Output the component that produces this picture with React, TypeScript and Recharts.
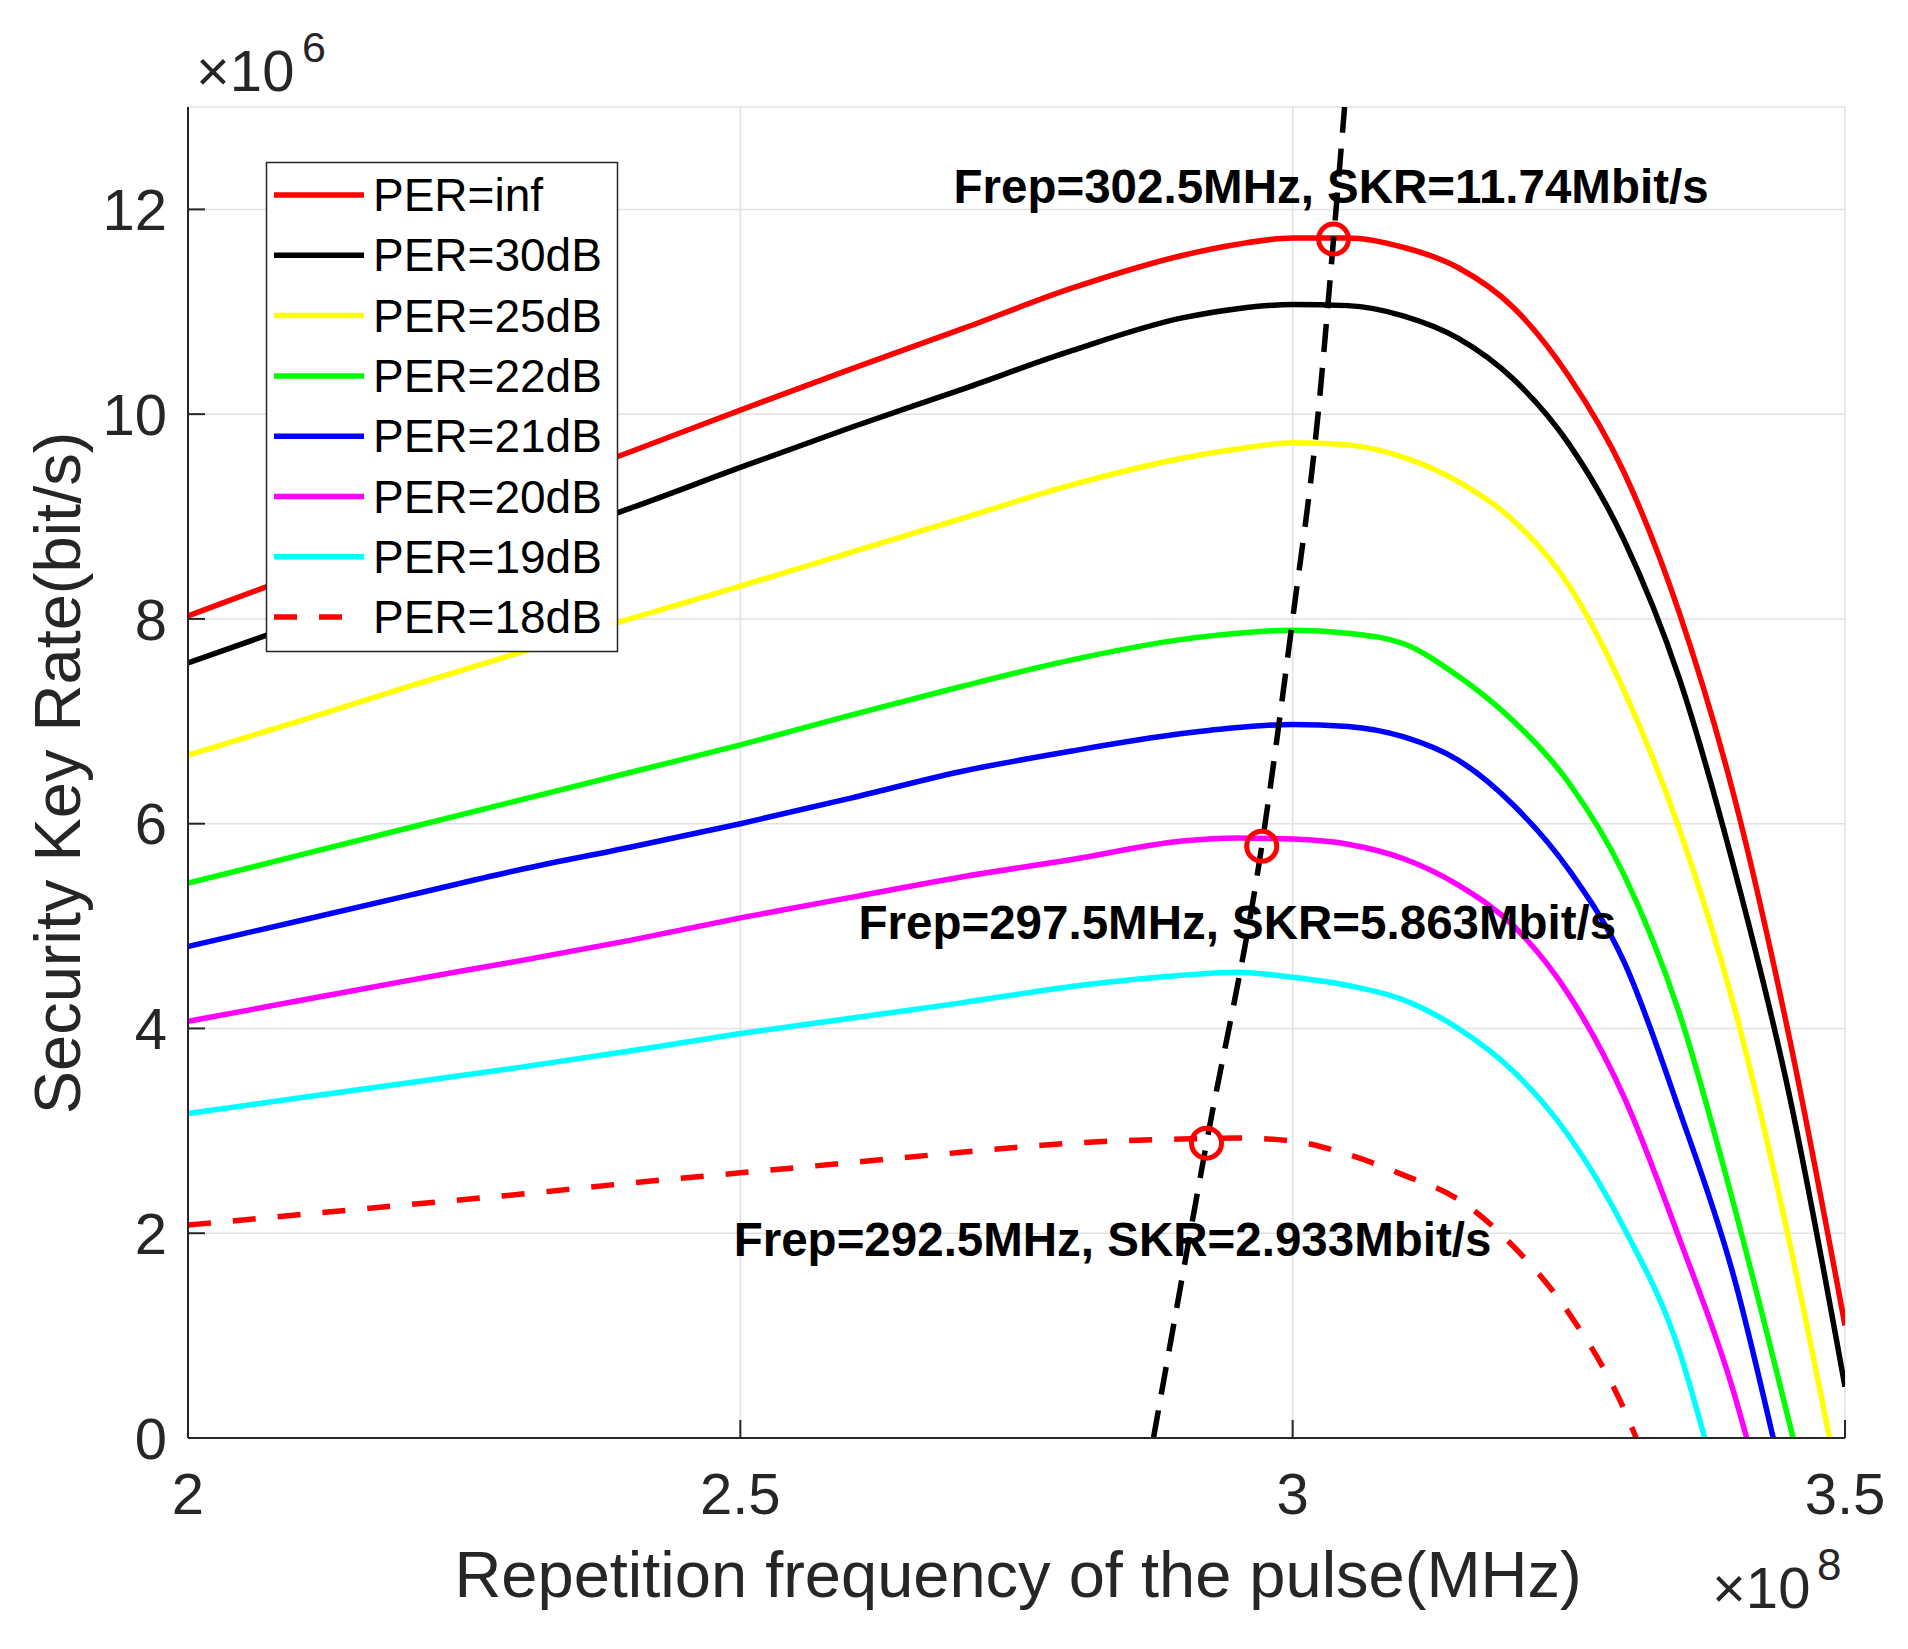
import { ComposedChart, Line, Scatter, XAxis, YAxis, CartesianGrid } from 'recharts'

const W = 1908
const H = 1649
const FONT = '"Liberation Sans", Arial, Helvetica, sans-serif'
const AXIS = '#262626'

// x in units of 1e8 Hz, y in units of 1e6 bit/s
const freq = [2.0, 2.1, 2.2, 2.3, 2.4, 2.5, 2.6, 2.7, 2.8, 2.9, 2.95, 3.0, 3.05, 3.1, 3.15, 3.2, 3.25, 3.3, 3.35, 3.4, 3.45, 3.5]

const skrInf = [8.03, 8.43, 8.83, 9.23, 9.63, 10.04, 10.44, 10.83, 11.23, 11.55, 11.66, 11.72, 11.72, 11.63, 11.43, 11.04, 10.37, 9.43, 8.06, 6.25, 3.89, 1.1]
const skr30 = [7.57, 7.95, 8.33, 8.71, 9.08, 9.48, 9.87, 10.24, 10.62, 10.94, 11.03, 11.07, 11.06, 10.96, 10.74, 10.34, 9.71, 8.77, 7.42, 5.55, 3.33, 0.5]
const skr25 = [6.67, 7.0, 7.34, 7.67, 8.0, 8.32, 8.65, 8.98, 9.31, 9.57, 9.66, 9.72, 9.7, 9.58, 9.34, 8.96, 8.33, 7.3, 5.95, 4.2, 1.9, null]
const skr22 = [5.42, 5.69, 5.96, 6.23, 6.5, 6.77, 7.06, 7.34, 7.6, 7.8, 7.86, 7.89, 7.86, 7.76, 7.44, 7.0, 6.4, 5.5, 4.15, 2.25, null, null]
const skr21 = [4.8, 5.05, 5.3, 5.55, 5.77, 6.0, 6.25, 6.51, 6.71, 6.88, 6.94, 6.97, 6.95, 6.85, 6.62, 6.18, 5.55, 4.65, 3.2, 1.55, null, null]
const skr20 = [4.07, 4.27, 4.47, 4.66, 4.86, 5.08, 5.28, 5.48, 5.65, 5.83, 5.86, 5.85, 5.8, 5.66, 5.4, 5.0, 4.33, 3.33, 1.95, 0.42, null, null]
const skr19 = [3.17, 3.32, 3.47, 3.62, 3.78, 3.95, 4.1, 4.25, 4.41, 4.52, 4.55, 4.5, 4.42, 4.28, 4.0, 3.58, 2.95, 2.05, 0.85, null, null, null]
const skr18 = [2.08, 2.18, 2.28, 2.38, 2.49, 2.59, 2.69, 2.79, 2.88, 2.92, 2.93, 2.9, 2.77, 2.57, 2.33, 1.87, 1.22, 0.28, null, null, null, null]

// where each curve reaches zero (null = still above zero at 3.5)
const zeroAt = [null, null, 3.486, 3.453, 3.435, 3.411, 3.373, 3.311]

const names = ['PER=inf', 'PER=30dB', 'PER=25dB', 'PER=22dB', 'PER=21dB', 'PER=20dB', 'PER=19dB', 'PER=18dB']
const colors = ['#ff0000', '#000000', '#ffff00', '#00ff00', '#0000ff', '#ff00ff', '#00ffff', '#ff0000']
const values = [skrInf, skr30, skr25, skr22, skr21, skr20, skr19, skr18]

// optimum markers and the dashed line through them
const peakFreq = [3.037, 2.972, 2.922]
const peakSkr = [11.71, 5.78, 2.88]
const trendFreq = [2.874, 2.922, 2.972, 3.0, 3.023, 3.037, 3.047]
const trendSkr = [0, 2.88, 5.78, 8.0, 10.0, 11.71, 13]

const noteText = [
  'Frep=302.5MHz, SKR=11.74Mbit/s',
  'Frep=297.5MHz, SKR=5.863Mbit/s',
  'Frep=292.5MHz, SKR=2.933Mbit/s',
]
const noteFreq = [2.693, 2.607, 2.494]
const noteSkr = [12.06, 4.87, 1.78]

const xTicks = [2, 2.5, 3, 3.5]
const yTicks = [0, 2, 4, 6, 8, 10, 12]

function toPoints(vals: (number | null)[], end: number | null) {
  const pts = freq
    .map((f, i) => ({ f, v: vals[i] }))
    .filter((p) => p.v !== null)
  if (end !== null) pts.push({ f: end, v: 0 })
  return pts
}

const curves = values.map((vals, i) => ({
  name: names[i],
  color: colors[i],
  dashed: i === 7,
  points: toPoints(vals, zeroAt[i]),
}))
const peaks = peakFreq.map((f, i) => ({ f, v: peakSkr[i] }))
const trend = trendFreq.map((f, i) => ({ f, v: trendSkr[i] }))
const notes = noteFreq.map((f, i) => ({ f, v: noteSkr[i], text: noteText[i] }))

// eslint-disable-next-line @typescript-eslint/no-explicit-any
const PeakCircle = (p: any) => (
  <circle cx={p.cx} cy={p.cy} r={15} fill="none" stroke="#ff0000" strokeWidth={5} />
)

// eslint-disable-next-line @typescript-eslint/no-explicit-any
const NoteText = (p: any) => (
  <text x={p.cx} y={p.cy} fontFamily={FONT} fontWeight="bold" fontSize={47.5} fill="#000">
    {p.payload.text}
  </text>
)

const tickStyle = { fontSize: 58, fill: AXIS, fontFamily: FONT }

export default function App() {
  return (
    <div style={{ position: 'absolute', left: 0, top: 0, width: W, height: H, background: '#fff' }}>
      <ComposedChart width={W} height={H} margin={{ top: 107, right: 63, bottom: 111, left: 68 }}>
        <CartesianGrid stroke="#e1e1e1" strokeWidth={1.5} />
        <XAxis
          type="number" dataKey="f" domain={[2, 3.5]} ticks={xTicks} interval={0}
          height={100} tickSize={-18} tickMargin={53} allowDataOverflow
          stroke={AXIS} strokeWidth={2} tick={tickStyle}
        />
        <XAxis
          xAxisId="top" orientation="top" type="number" dataKey="f" domain={[2, 3.5]}
          ticks={xTicks} interval={0} height={0} tickSize={-18} tick={false}
          stroke={AXIS} strokeWidth={2}
        />
        <YAxis
          type="number" dataKey="v" domain={[0, 13]} ticks={yTicks} interval={0}
          width={120} tickSize={-17} tickMargin={38} allowDataOverflow
          stroke={AXIS} strokeWidth={2} tick={tickStyle}
        />
        <YAxis
          yAxisId="right" orientation="right" type="number" domain={[0, 13]}
          ticks={yTicks} interval={0} width={0} tickSize={-17} tick={false}
          stroke={AXIS} strokeWidth={2}
        />
        {curves.map((c) => (
          <Line
            key={c.name}
            name={c.name}
            data={c.points}
            dataKey="v"
            type="monotone"
            stroke={c.color}
            strokeWidth={5.5}
            strokeDasharray={c.dashed ? '23 22' : undefined}
            dot={false}
            activeDot={false}
            isAnimationActive={false}
          />
        ))}
        <Line
          data={trend} dataKey="v" type="monotone" stroke="#000" strokeWidth={5.5}
          strokeDasharray="28 16" dot={false} activeDot={false} isAnimationActive={false}
        />
        <Scatter data={peaks} dataKey="v" shape={PeakCircle} isAnimationActive={false} />
        <Scatter data={notes} dataKey="v" shape={NoteText} isAnimationActive={false} />
      </ComposedChart>

      <svg
        width={W} height={H}
        style={{ position: 'absolute', left: 0, top: 0, pointerEvents: 'none' }}
        fontFamily={FONT}
      >
        <text x={196} y={91} fontSize={58} fill={AXIS}>×10</text>
        <text x={302} y={62} fontSize={43} fill={AXIS}>6</text>
        <text x={1712} y={1608} fontSize={58} fill={AXIS}>×10</text>
        <text x={1817} y={1580} fontSize={44} fill={AXIS}>8</text>
        <text x={80} y={773} fontSize={65} fill={AXIS} textAnchor="middle" transform="rotate(-90 80 773)">
          Security Key Rate(bit/s)
        </text>
        <text x={1018} y={1597} fontSize={65} fill={AXIS} textAnchor="middle">
          Repetition frequency of the pulse(MHz)
        </text>

        <g transform="translate(266 162)">
          <rect x={0.5} y={0.5} width={351} height={489} fill="#fff" stroke={AXIS} strokeWidth={1.5} />
          {curves.map((c, i) => {
            const cy = 33 + i * 60.3
            return (
              <g key={c.name}>
                <line
                  x1={8} x2={98} y1={cy} y2={cy} stroke={c.color} strokeWidth={5.5}
                  strokeDasharray={c.dashed ? '23 22' : undefined}
                />
                <text x={107} y={cy + 16} fontSize={46} fill="#000">{c.name}</text>
              </g>
            )
          })}
        </g>
      </svg>
    </div>
  )
}
